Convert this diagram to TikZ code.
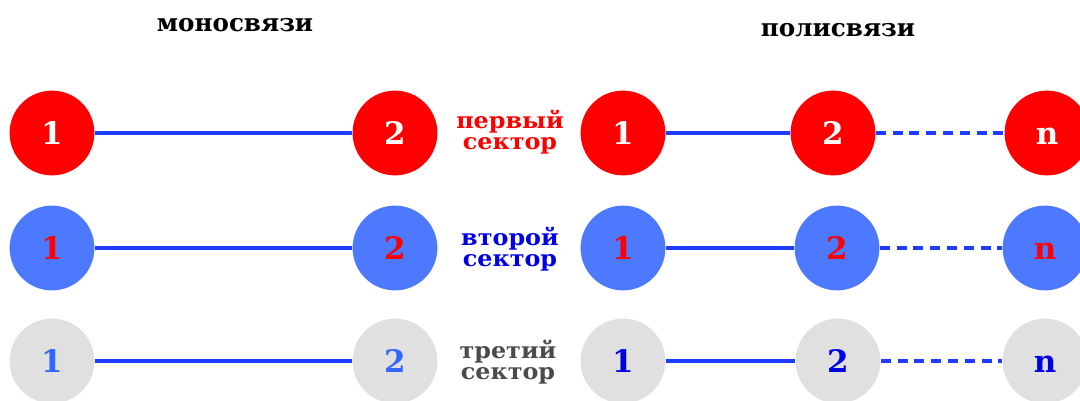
\documentclass[tikz,border=0pt]{standalone}
\usepackage{fontspec}
\setmainfont{DejaVu Serif}
\newfontfamily\sectorfont[FakeStretch=1.06]{DejaVu Serif}
\usepackage{xcolor}
\definecolor{nodered}{RGB}{255, 0, 0}
\definecolor{nodeblue}{RGB}{77, 121, 255}
\definecolor{nodegrey}{RGB}{224, 224, 224}
\definecolor{linkblue}{RGB}{30, 60, 255}
\definecolor{numblue}{RGB}{51, 102, 255}
\definecolor{labelblue}{RGB}{0, 0, 230}
\definecolor{labelgrey}{RGB}{75, 75, 75}
\usetikzlibrary{positioning, calc}

\begin{document}
\begin{tikzpicture}[
    x=0.025cm, y=-0.025cm,
    vertex/.style={circle, minimum size=2.12cm, inner sep=0pt, text height=16pt, text depth=0pt, font=\fontsize{22}{22}\selectfont\bfseries},
    redv/.style={vertex, fill=nodered, text=white},
    bluev/.style={vertex, fill=nodeblue, text=nodered},
    greyv/.style={vertex, fill=nodegrey, text=numblue},
    link/.style={linkblue, line width=2.2pt},
    dlink/.style={link, dash pattern=on 0.25cm off 0.17cm},
    sector/.style={align=center, inner sep=0pt, font=\sectorfont\fontsize{16}{14.5}\selectfont\bfseries},
    head/.style={font=\fontsize{17.5}{17.5}\selectfont\bfseries}
]
    \clip (0,0) rectangle (1080,401);
    \useasboundingbox (0,0) rectangle (1080,401);

    \node[head] (mono) at (235,25) {моносвязи};
    \node[head] (poly) at (838,30) {полисвязи};

    % first sector
    \node[redv] (a1) at (52,133) {1};
    \node[redv] (a2) at (395,133) {2};
    \node[redv] (b1) at (623,133) {1};
    \node[redv] (b2) at (833,133) {2};
    \node[redv] (bn) at (1047,133) {n};
    \node[sector, text=nodered] (s1) at (510,132) {первый\\сектор};

    % second sector
    \node[bluev] (c1) at (52,248) {1};
    \node[bluev] (c2) at (395,248) {2};
    \node[bluev] (d1) at (623,248) {1};
    \node[bluev] (d2) at (837,248) {2};
    \node[bluev] (dn) at (1045,248) {n};
    \node[sector, text=labelblue] (s2) at (510,249) {второй\\сектор};

    % third sector
    \node[greyv] (e1) at (52,361) {1};
    \node[greyv] (e2) at (395,361) {2};
    \node[greyv, text=labelblue] (f1) at (623,361) {1};
    \node[greyv, text=labelblue] (f2) at (838,361) {2};
    \node[greyv, text=labelblue] (fn) at (1045,361) {n};
    \node[sector, text=labelgrey] (s3) at (508,362) {третий\\сектор};

    \draw[link] (a1) -- (a2);
    \draw[link] (b1) -- (b2);
    \draw[dlink] (b2) -- (bn);
    \draw[link] (c1) -- (c2);
    \draw[link] (d1) -- (d2);
    \draw[dlink] (d2) -- (dn);
    \draw[link] (e1) -- (e2);
    \draw[link] (f1) -- (f2);
    \draw[dlink] (f2) -- (fn);
\end{tikzpicture}
\end{document}
